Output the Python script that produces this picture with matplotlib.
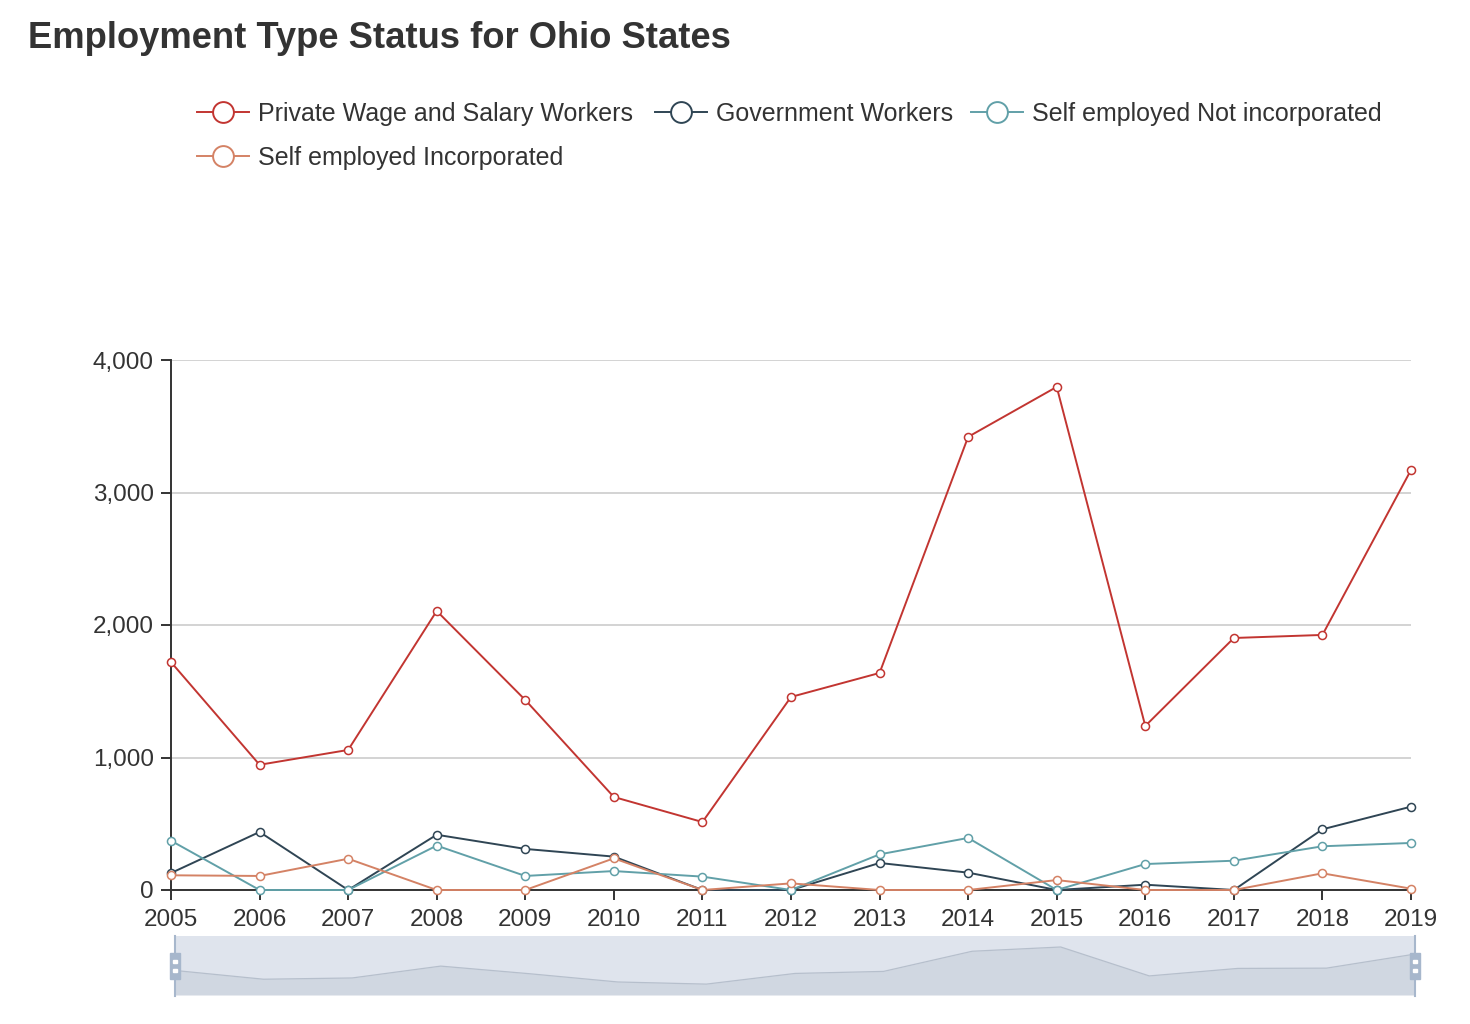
import numpy as np
import matplotlib.pyplot as plt
from matplotlib.patches import Rectangle

# ---------------------- data ----------------------
years = [2005, 2006, 2007, 2008, 2009, 2010, 2011, 2012, 2013, 2014, 2015, 2016, 2017, 2018, 2019]
private_wage = [1720, 945, 1057, 2106, 1434, 702, 513, 1457, 1638, 3420, 3797, 1238, 1902, 1925, 3170]
government = [128, 438, 0, 417, 310, 252, 0, 0, 204, 131, 0, 40, 0, 458, 629]
self_not_inc = [372, 0, 0, 335, 106, 143, 101, 0, 269, 393, 0, 196, 221, 330, 355]
self_inc = [111, 106, 236, 0, 0, 239, 0, 50, 0, 0, 75, 0, 0, 126, 10]

series_names = ["Private Wage and Salary Workers", "Government Workers",
                "Self employed Not incorporated", "Self employed Incorporated"]
colors = ["#c23531", "#2f4554", "#61a0a8", "#d48265"]
yticks = [0, 1000, 2000, 3000, 4000]

plt.rcParams['font.family'] = ['Liberation Sans', 'DejaVu Sans']

W, H = 1470, 1024
fig = plt.figure(figsize=(W / 100, H / 100), dpi=100)

def px(x0, y0, x1, y1):
    return [x0 / W, 1 - y1 / H, (x1 - x0) / W, (y1 - y0) / H]

# ---------------------- main chart ----------------------
ax = fig.add_axes(px(171, 360, 1411, 890))
for vals, c in zip([private_wage, government, self_not_inc, self_inc], colors):
    ax.plot(years, vals, color=c, lw=1.4, marker='o', ms=5.8,
            mfc='white', mec=c, mew=1.1, zorder=3, clip_on=False)

ax.set_xlim(years[0], years[-1])
ax.set_ylim(0, 4000)
ax.set_xticks(years)
ax.set_yticks(yticks)
ax.set_yticklabels([f"{v:,}" for v in yticks])
ax.grid(axis='y', color='#cccccc', lw=1.2)
ax.set_axisbelow(True)
for s in ['top', 'right']:
    ax.spines[s].set_visible(False)
for s in ['left', 'bottom']:
    ax.spines[s].set_color('#333333')
    ax.spines[s].set_linewidth(1.4)
ax.tick_params(axis='both', colors='#333333', labelsize=17.5, length=7, width=1.4)
ax.tick_params(axis='y', pad=5.5)
ax.tick_params(axis='x', pad=6.5)

# ---------------------- data zoom slider ----------------------
sl = fig.add_axes(px(175, 936, 1415, 995))
sl.set_facecolor('#dfe4ed')
sl.fill_between(years, private_wage, -450, color='#d0d7e1', lw=0)
sl.plot(years, private_wage, color='#b6bfcc', lw=0.9)
sl.set_xlim(years[0], years[-1])
sl.set_ylim(-450, 4770)
sl.set_xticks([])
sl.set_yticks([])
for s in sl.spines.values():
    s.set_visible(False)

# ---------------------- overlay: title, legend, slider handles ----------------------
ov = fig.add_axes([0, 0, 1, 1], zorder=5)
ov.set_xlim(0, W)
ov.set_ylim(H, 0)
ov.axis('off')

ov.text(28, 39, "Employment Type Status for Ohio States", fontsize=26.2,
        fontweight='bold', color='#333333', va='center', ha='left')

legend_pos = [(197, 112), (655, 112), (971, 112), (197, 156)]
for (lx, ly), name, c in zip(legend_pos, series_names, colors):
    ov.plot([lx, lx + 52], [ly, ly], color=c, lw=1.4)
    ov.plot([lx + 26], [ly], marker='o', ms=15, mfc='white', mec=c, mew=1.4)
    ov.text(lx + 61, ly + 2, name, fontsize=18, color='#333333', va='center', ha='left')

for hx in (175, 1415):
    ov.plot([hx, hx], [936, 996], color='#a7b7cc', lw=1.5)
    ov.add_patch(Rectangle((hx - 5, 953), 10, 26, color='#a7b7cc', zorder=6))
    ov.add_patch(Rectangle((hx - 2, 960), 4, 3, color='white', zorder=7))
    ov.add_patch(Rectangle((hx - 2, 969), 4, 3, color='white', zorder=7))

fig.savefig("out.png", dpi=100)
